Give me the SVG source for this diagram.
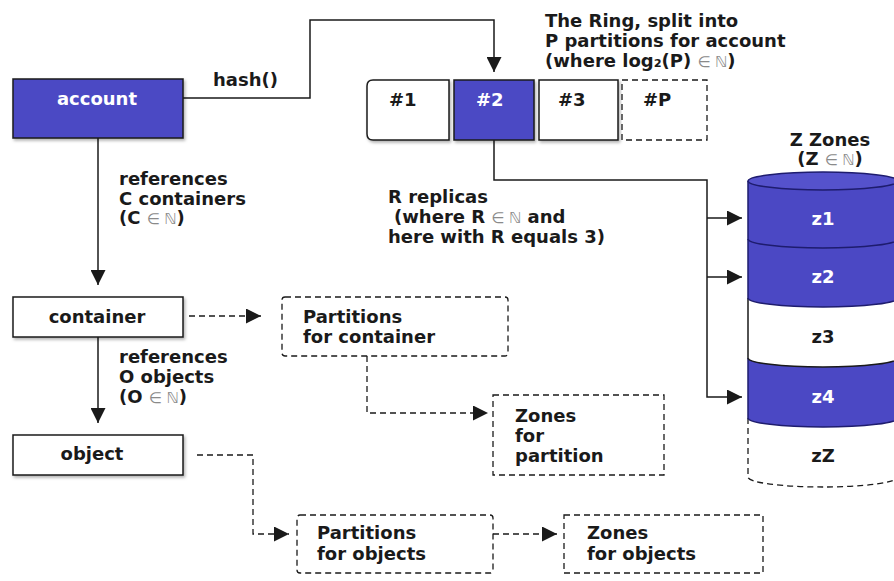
<svg xmlns="http://www.w3.org/2000/svg" width="894" height="581" viewBox="0 0 894 581">
<style>
text{font-family:"DejaVu Sans","Liberation Sans",sans-serif;font-weight:bold;font-size:18px;fill:#1a1a1a}
.w{fill:#ffffff}
.m{fill:#8a8a8a;font-weight:normal;font-size:15px}
.c{text-anchor:middle}
.box{stroke:#1a1a1a;stroke-width:1.5;fill:#fff}
.blue{fill:#4b48c4}
.dbox{stroke:#1a1a1a;stroke-width:1.3;fill:#fff;stroke-dasharray:6 4}
.ln{fill:none;stroke:#1a1a1a;stroke-width:1.5}
.dl{fill:none;stroke:#1a1a1a;stroke-width:1.3;stroke-dasharray:6 4}
.seg{stroke:#1e1c6e;stroke-width:1.5}
</style>
<defs>
<marker id="ah" viewBox="0 0 14 14" refX="14" refY="7" markerWidth="15" markerHeight="15" markerUnits="userSpaceOnUse" orient="auto">
<path d="M0,0 L14,7 L0,14 z" fill="#1a1a1a"/>
</marker>
<filter id="sh" x="-10%" y="-10%" width="130%" height="140%">
<feDropShadow dx="1.5" dy="2" stdDeviation="1.5" flood-color="#000" flood-opacity="0.3"/>
</filter>
</defs>
<rect width="894" height="581" fill="#fff"/>

<g id="connectors">
<path class="ln" d="M183,98 H310 V20 H494 V72" marker-end="url(#ah)"/>
<path class="ln" d="M98,138 V285" marker-end="url(#ah)"/>
<path class="ln" d="M98,337 V423" marker-end="url(#ah)"/>
<path class="ln" d="M494,140 V180 H707 V397 H742" marker-end="url(#ah)"/>
<path class="ln" d="M707,218 H742" marker-end="url(#ah)"/>
<path class="ln" d="M707,277 H742" marker-end="url(#ah)"/>
<path class="dl" d="M189,316 H261" marker-end="url(#ah)"/>
<path class="dl" d="M367,356 V413 H488" marker-end="url(#ah)"/>
<path class="dl" d="M197,455 H253 V534 H289" marker-end="url(#ah)"/>
<path class="dl" d="M493,534 H557" marker-end="url(#ah)"/>
</g>

<g id="labels">
<text x="213" y="86">hash()</text>
<text x="545" y="27">The Ring, split into</text>
<text x="545" y="47">P partitions for account</text>
<text x="545" y="67">(where log₂(P) <tspan class="m">∈ ℕ</tspan>)</text>
<text x="119" y="185">references</text>
<text x="119" y="205">C containers</text>
<text x="119" y="224">(C <tspan class="m">∈ ℕ</tspan>)</text>
<text x="119" y="363">references</text>
<text x="119" y="383">O objects</text>
<text x="119" y="403">(O <tspan class="m">∈ ℕ</tspan>)</text>
<text x="388" y="203">R replicas</text>
<text x="394" y="223">(where R <tspan class="m">∈ ℕ</tspan> and</text>
<text x="388" y="243">here with R equals 3)</text>
<text class="c" x="830" y="146">Z Zones</text>
<text class="c" x="830" y="165">(Z <tspan class="m">∈ ℕ</tspan>)</text>
</g>

<g id="account">
<rect class="box blue" x="13" y="79" width="170" height="59" filter="url(#sh)"/>
<text class="w c" x="97" y="105">account</text>
</g>
<g id="container">
<rect class="box" x="13" y="297" width="170" height="40" filter="url(#sh)"/>
<text class="c" x="97" y="323">container</text>
</g>
<g id="object">
<rect class="box" x="13" y="435" width="170" height="40" filter="url(#sh)"/>
<text class="c" x="92" y="460">object</text>
</g>

<g id="ring-1">
<path class="box" d="M373,80 H449 V140 H373 Q367,140 367,134 V86 Q367,80 373,80 Z" filter="url(#sh)"/>
<text x="389" y="106">#1</text>
</g>
<g id="ring-2">
<rect class="box blue" x="454" y="80" width="80" height="60" filter="url(#sh)"/>
<text class="w" x="476" y="106">#2</text>
</g>
<g id="ring-3">
<rect class="box" x="539" y="80" width="79" height="60" filter="url(#sh)"/>
<text x="558" y="106">#3</text>
</g>
<g id="ring-P">
<rect class="dbox" x="622" y="80" width="85" height="60"/>
<text x="643" y="106">#P</text>
</g>

<g id="partitions-container">
<rect class="dbox" x="282" y="297" width="226" height="59" rx="3"/>
<text x="303" y="323">Partitions</text>
<text x="303" y="343">for container</text>
</g>
<g id="zones-partition">
<rect class="dbox" x="493" y="395" width="171" height="80"/>
<text x="515" y="422">Zones</text>
<text x="515" y="442">for</text>
<text x="515" y="462">partition</text>
</g>
<g id="partitions-objects">
<rect class="dbox" x="297" y="515" width="196" height="58" rx="3"/>
<text x="317" y="539">Partitions</text>
<text x="317" y="560">for objects</text>
</g>
<g id="zones-objects">
<rect class="dbox" x="564" y="515" width="199" height="58"/>
<text x="587" y="539">Zones</text>
<text x="587" y="560">for objects</text>
</g>

<g id="zones-cylinder">
<path d="M748,418 V477 A75,10 0 0 0 898,477 V418" fill="#fff" stroke="#1a1a1a" stroke-width="1.3" stroke-dasharray="6 4"/>
<path class="seg blue" d="M748,358 V418 A75,9 0 0 0 898,418 V358"/>
<path d="M748,298 V358 A75,9 0 0 0 898,358 V298" fill="#fff" stroke="#1a1a1a" stroke-width="1.5"/>
<path class="seg blue" d="M748,239 V298 A75,9 0 0 0 898,298 V239"/>
<path class="seg blue" d="M748,181 V239 A75,9 0 0 0 898,239 V181"/>
<ellipse class="seg" cx="823" cy="181" rx="75" ry="9" fill="#5552cc"/>
<text class="w c" x="823" y="225">z1</text>
<text class="w c" x="823" y="283">z2</text>
<text class="c" x="823" y="343">z3</text>
<text class="w c" x="823" y="403">z4</text>
<text class="c" x="823" y="462">zZ</text>
</g>
</svg>
